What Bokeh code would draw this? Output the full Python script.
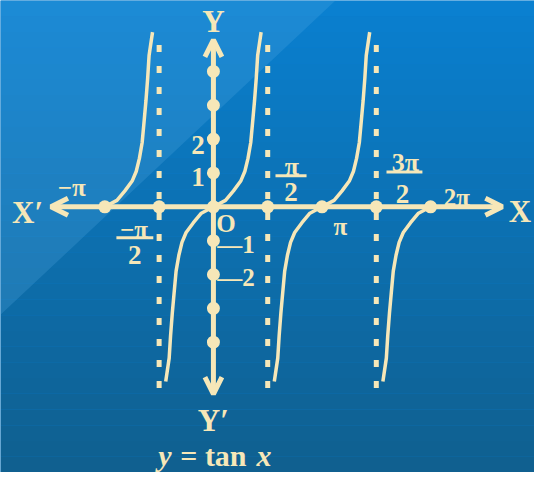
import numpy as np
from bokeh.plotting import figure
from bokeh.models import Range1d, Arrow, OpenHead
from bokeh.core.properties import value
from bokeh.embed import file_html
from bokeh.resources import INLINE

PI = np.pi
# ---- data ----
# x-axis marked points (radians) and y-axis marked points (units)
x_marks = [-PI, -PI / 2, 0, PI / 2, PI, 3 * PI / 2, 2 * PI]
y_marks = [4, 3, 2, 1, -1, -2, -3, -4]
# vertical asymptotes
asymptotes = [-PI / 2, PI / 2, 3 * PI / 2]
asym_top = 5.1
asym_bottom = -5.35
# axis extents (arrow tips)
x_axis_left, x_axis_right = -4.70, 8.36
y_axis_top, y_axis_bottom = 4.93, -5.53
# one branch of the curve (offset from branch centre, value)
branch_dx = [0.0, 0.35, 0.58, 0.79, 0.91, 1.00, 1.08, 1.14, 1.19, 1.24, 1.28, 1.38]
branch_y = [0.0, 0.19, 0.47, 0.76, 1.05, 1.43, 1.90, 2.57, 3.14, 3.81, 4.47, 5.16]
# branch centres and which halves are drawn
branch_centres = [-PI, 0, PI, 2 * PI]
branch_upper = [True, True, True, False]
branch_lower = [False, True, True, True]

CREAM = "#f6e7b8"
FONT = value("Liberation Serif")

W, H = 534, 472
KX, KY = W / 550, H / 488
# pixel scale (px per unit) in the figure
SX, SY = 35.6 * KX, 35.0 * KY
X0, X1 = -219.3 / 35.6, (550 - 219.3) / 35.6
Y0, Y1 = (213.3 - 488) / 35.0, 213.3 / 35.0

p = figure(width=W, height=H, x_range=Range1d(X0, X1), y_range=Range1d(Y0, Y1),
           x_axis_type=None, y_axis_type=None, toolbar_location=None,
           output_backend="svg", min_border=0, outline_line_color=None)
p.grid.visible = False
p.background_fill_color = "#0a7ecf"
p.border_fill_color = "#0a7ecf"

# background gradient bands
top_c = np.array([0x0a, 0x80, 0xd0])
bot_c = np.array([0x10, 0x60, 0x90])
nb = 30
edges = np.linspace(Y1, Y0, nb + 1)
cols = []
for i in range(nb):
    t = i / (nb - 1)
    c = (top_c * (1 - t) + bot_c * t).astype(int)
    cols.append("#%02x%02x%02x" % tuple(c))
p.quad(left=X0, right=X1, top=edges[:-1], bottom=edges[1:], fill_color=cols, line_color=None)
# lighter top-left corner
p.patch([X0, X0 + 345 / 35.6, X0], [Y1, Y1, Y1 - 325 / 35.0], fill_color="#5fb0e6", fill_alpha=0.22, line_color=None)

# asymptotes
for a in asymptotes:
    p.line([a, a], [asym_bottom, asym_top], line_color=CREAM, line_width=5, line_dash="7 14")

# curves
bdx = np.array(branch_dx)
by = np.array(branch_y)
for c, up, lo in zip(branch_centres, branch_upper, branch_lower):
    xs, ys = [], []
    if lo:
        xs += list(c - bdx[::-1])
        ys += list(-by[::-1])
    if up:
        xs += list(c + bdx)
        ys += list(by)
    p.line(xs, ys, line_color=CREAM, line_width=3.5)

# axes with arrows
head = dict(size=17, line_width=5, line_color=CREAM)
p.add_layout(Arrow(x_start=x_axis_left, y_start=0, x_end=x_axis_right, y_end=0, line_color=CREAM, line_width=5,
                   start=OpenHead(**head), end=OpenHead(**head)))
p.add_layout(Arrow(x_start=0, y_start=y_axis_bottom, x_end=0, y_end=y_axis_top, line_color=CREAM, line_width=5,
                   start=OpenHead(**head), end=OpenHead(**head)))

# dots
p.scatter(x_marks, [0] * len(x_marks), size=13, fill_color=CREAM, line_color=None)
p.scatter([0] * len(y_marks), y_marks, size=13, fill_color=CREAM, line_color=None)


def lab(x, y, txt, dx=0, dy=0, size="26px", style="bold", align="center"):
    p.text(x=[x], y=[y], text=[txt], x_offset=dx * KX, y_offset=dy * KY, text_font=FONT, text_font_size=size,
           text_font_style=style, text_color=CREAM, text_align=align, text_baseline="middle")


def bar(x, y, dx, dy, w):
    p.rect(x=[x + dx * KX / SX], y=[y - dy * KY / SY], width=w * KX, height=3, width_units="screen",
           height_units="screen", fill_color=CREAM, line_color=None)


# axis names
lab(0, y_axis_top, "Y", 0, -19, "31px")
lab(0, y_axis_bottom, "Y\u2032", 0, 27, "31px")
lab(x_axis_left, 0, "X\u2032", -24, 6, "31px")
lab(x_axis_right, 0, "X", 18, 5, "31px")

# x labels
lab(-PI, 0, "\u2212\u03c0", -34, -20, "25px")
lab(-PI / 2, 0, "\u2212\u03c0", -26, 23, "25px")
bar(-PI / 2, 0, -25, 32, 38)
lab(-PI / 2, 0, "2", -25, 50, "27px")
lab(PI / 2, 0, "\u03c0", 25, -42, "26px")
bar(PI / 2, 0, 24, -32, 32)
lab(PI / 2, 0, "2", 24, -15, "27px")
lab(3 * PI / 2, 0, "3\u03c0", 30, -46, "26px")
bar(3 * PI / 2, 0, 29, -36, 37)
lab(3 * PI / 2, 0, "2", 27, -13, "27px")
lab(PI, 0, "\u03c0", 19, 20, "25px")
lab(2 * PI, 0, "2\u03c0", 27, -10, "25px")
lab(0, 0, "O", 13, 17, "25px")

# y labels
lab(0, 1, "1", -16, 4, "27px")
lab(0, 2, "2", -16, 6, "27px")
lab(0, -1, "\u20141", 4, 4, "25px", align="left")
lab(0, -2, "\u20142", 4, 3, "25px", align="left")

# caption
lab(0, y_axis_bottom, "y", -50, 64, "30px", "bold italic")
lab(0, y_axis_bottom, "= tan", 0, 64, "30px", "bold")
lab(0, y_axis_bottom, "x", 52, 64, "30px", "bold italic")

open("out.html", "w").write(file_html(p, INLINE))
